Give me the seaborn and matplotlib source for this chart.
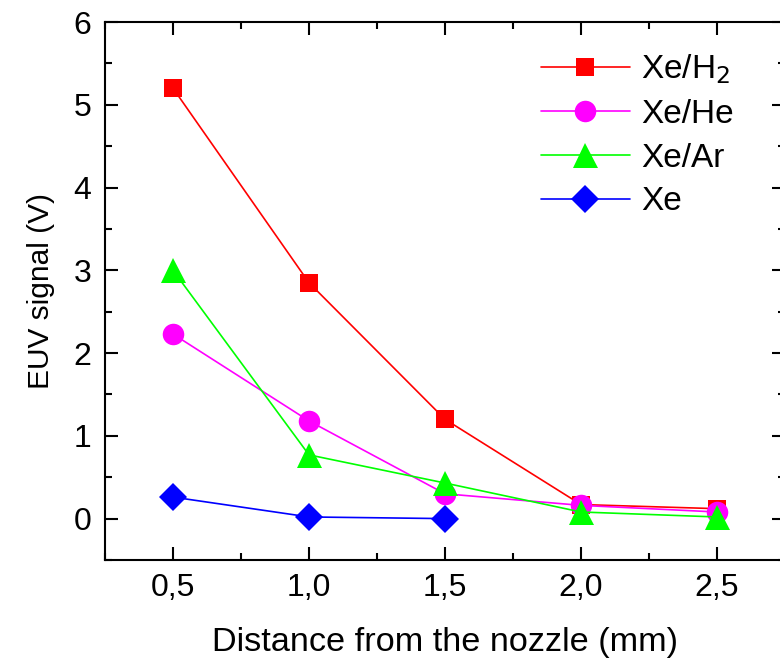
import numpy as np
import pandas as pd
import matplotlib
matplotlib.use("Agg")
import matplotlib.pyplot as plt
import seaborn as sns
from matplotlib.ticker import MultipleLocator, FormatStrFormatter

distance = [0.5, 1.0, 1.5, 2.0, 2.5]
xe_h2 = [5.2, 2.85, 1.2, 0.17, 0.12]
xe_he = [2.23, 1.18, 0.30, 0.16, 0.08]
xe_ar = [3.0, 0.77, 0.43, 0.08, 0.02]
xe = [0.26, 0.02, 0.0]

labels = ["Xe/H$_2$", "Xe/He", "Xe/Ar", "Xe"]
colors = ["#ff0000", "#ff00ff", "#00ff00", "#0000ff"]
marks = ["s", "o", "^", "D"]
sizes = [13, 15.5, 18, 14]

rows = []
for lab, vals in zip(labels, [xe_h2, xe_he, xe_ar, xe]):
    for d, v in zip(distance, vals):
        rows.append({"distance": d, "signal": v, "gas": lab})
df = pd.DataFrame(rows)

sns.set_style("ticks", {"axes.edgecolor": "black", "xtick.color": "black",
                        "ytick.color": "black", "text.color": "black",
                        "axes.labelcolor": "black"})
plt.rcParams["font.family"] = ["Liberation Sans", "DejaVu Sans"]

fig = plt.figure(figsize=(7.8, 6.64), dpi=100)
# right spine sits just outside the canvas, as in the original
ax = fig.add_axes([105 / 780, 104 / 664, 680 / 780, 538 / 664])

for lab, col, m, ms in zip(labels, colors, marks, sizes):
    sub = df[df["gas"] == lab]
    sns.lineplot(data=sub, x="distance", y="signal", ax=ax, color=col,
                 marker=m, markersize=ms, markeredgewidth=0, linewidth=1.2,
                 label=lab)

ax.set_xlim(0.25, 2.75)
ax.set_ylim(-0.5, 6)
ax.xaxis.set_major_locator(MultipleLocator(0.5))
ax.xaxis.set_minor_locator(MultipleLocator(0.25))
ax.yaxis.set_major_locator(MultipleLocator(1))
ax.yaxis.set_minor_locator(MultipleLocator(0.5))
ax.xaxis.set_major_formatter(plt.FuncFormatter(lambda v, p: f"{v:.1f}".replace(".", ",")))
ax.yaxis.set_major_formatter(FormatStrFormatter("%d"))
ax.tick_params(which="both", direction="in", top=True, right=True, width=1.5,
               labelsize=23)
ax.tick_params(axis="x", pad=9)
ax.tick_params(axis="y", pad=10)
ax.tick_params(which="major", length=9.5)
ax.tick_params(which="minor", length=5)
for s in ax.spines.values():
    s.set_linewidth(1.5)

ax.set_xlabel("Distance from the nozzle (mm)", fontsize=24.7, labelpad=18)
ax.set_ylabel("EUV signal (V)", fontsize=21.5, labelpad=13)

ax.legend(loc="upper left", frameon=False, fontsize=24, handlelength=2.67,
          handletextpad=0.33, labelspacing=0.38, borderpad=0, borderaxespad=0,
          bbox_to_anchor=(0.641, 0.943))

fig.savefig("out.png", dpi=100)
